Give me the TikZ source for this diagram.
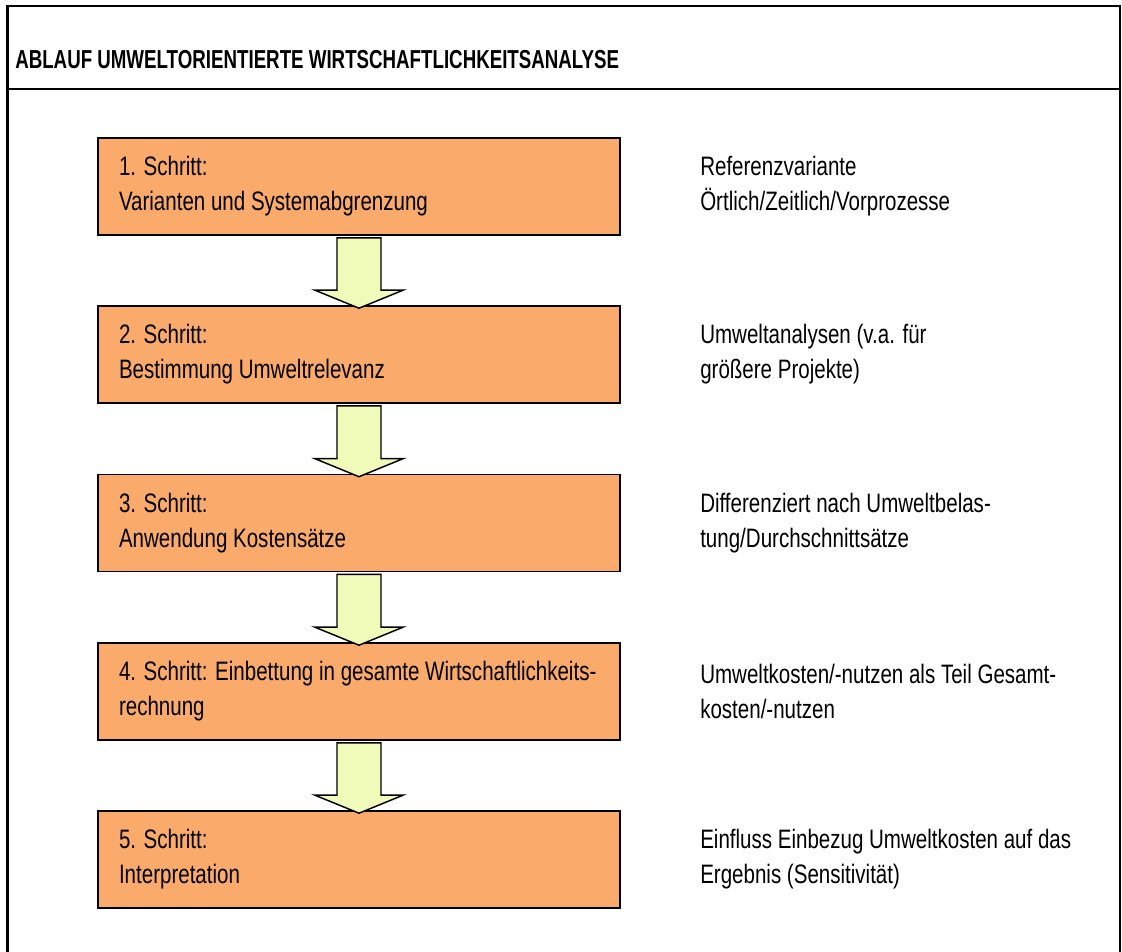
\documentclass[tikz,border=0pt]{standalone}
\usepackage{fontspec}
\setmainfont[FakeStretch=0.77]{Liberation Sans}
\newfontfamily\hdfont[FakeStretch=0.72]{Liberation Sans}
\usetikzlibrary{calc}
\definecolor{boxorange}{RGB}{250,170,107}
\definecolor{arrowyellow}{RGB}{240,250,185}
\tikzset{
  frameline/.style={line width=2.1pt, line cap=rect},
  stepbox/.style={draw=black, line width=1.2pt, fill=boxorange, rectangle,
    minimum width=391.5pt, minimum height=72.75pt, text width=360pt,
    inner xsep=15.75pt, inner ysep=0pt, align=flush left,
    font=\fontsize{20pt}{26.25pt}\selectfont},
  note/.style={anchor=west, inner sep=0pt, align=flush left,
    font=\fontsize{20pt}{26.25pt}\selectfont},
  flowarrow/.style={draw=black, line width=1.1pt, fill=arrowyellow, line join=miter},
  titletext/.style={anchor=base west, inner sep=0pt,
    font=\hdfont\bfseries\fontsize{19.5pt}{23pt}\selectfont}
}
\newcommand\stepflow[2]{%
  \draw[flowarrow] ($(#1.south)+(-22,2)$) -- ($(#2.north)+(-22,-15)$)
    -- ($(#2.north)+(-44,-15)$) -- ($(#2.north)+(0,3)$)
    -- ($(#2.north)+(44,-15)$) -- ($(#2.north)+(22,-15)$)
    -- ($(#1.south)+(22,2)$) -- cycle;}
\begin{document}
\begin{tikzpicture}[x=0.75pt, y=-0.75pt]
\useasboundingbox (0,0) rectangle (1122,951);
% outer frame
\draw[frameline] (7.5,960) -- (7.5,6) -- (1120,6) -- (1120,960);
\draw[frameline] (7.5,89) -- (1120,89);
\node[titletext] (title) at (15,68) {ABLAUF UMWELTORIENTIERTE WIRTSCHAFTLICHKEITSANALYSE};
% steps
\node[stepbox] (b1) at (359,186.5) {1. Schritt:\\Varianten und Systemabgrenzung};
\node[stepbox] (b2) at (359,354.5) {2. Schritt:\\Bestimmung Umweltrelevanz};
\node[stepbox] (b3) at (359,523) {3. Schritt:\\Anwendung Kostensätze};
\node[stepbox] (b4) at (359,691.5) {\mbox{4. Schritt: Einbettung in gesamte Wirtschaftlichkeits-}\\rechnung};
\node[stepbox] (b5) at (359,859.5) {5. Schritt:\\Interpretation};
% notes
\node[note] (n1) at (700,186.5) {Referenzvariante\\Örtlich/Zeitlich/Vorprozesse};
\node[note] (n2) at (700,354.5) {Umweltanalysen (v.a. für\\größere Projekte)};
\node[note] (n3) at (700,523) {Differenziert nach Umweltbelas-\\tung/Durchschnittsätze};
\node[note] (n4) at (700,691.5) {Umweltkosten/-nutzen als Teil Gesamt-\\kosten/-nutzen};
\node[note] (n5) at (700,859.5) {Einfluss Einbezug Umweltkosten auf das\\Ergebnis (Sensitivität)};
% arrows
\stepflow{b1}{b2}
\stepflow{b2}{b3}
\stepflow{b3}{b4}
\stepflow{b4}{b5}
\end{tikzpicture}
\end{document}
